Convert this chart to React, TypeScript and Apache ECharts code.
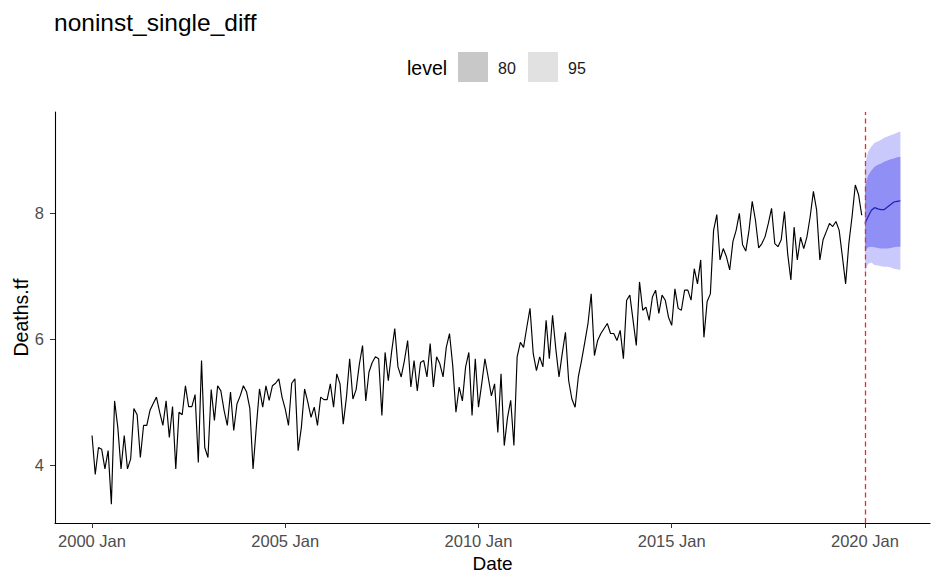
import React, { useEffect, useRef } from "react";
import * as echarts from "echarts";

// Monthly observations (transformed deaths), January..December of each year
const y2000 = [4.47, 3.85, 4.28, 4.25, 3.94, 4.23, 3.38, 5.02, 4.6, 3.94, 4.47, 3.94];
const y2001 = [4.1, 4.9, 4.8, 4.12, 4.63, 4.63, 4.87, 4.98, 5.08, 4.84, 4.63, 5.02];
const y2002 = [4.44, 4.93, 3.94, 4.84, 4.8, 5.26, 4.93, 4.93, 5.12, 4.04, 5.66, 4.28];
const y2003 = [4.12, 5.2, 4.71, 5.26, 5.18, 4.87, 4.63, 5.16, 4.55, 4.97, 5.1, 5.26];
const y2004 = [5.16, 4.9, 3.94, 4.6, 5.21, 4.92, 5.26, 5.03, 5.26, 5.3, 5.37, 5.08];
const y2005 = [4.89, 4.63, 5.3, 5.37, 4.23, 4.6, 5.21, 5.0, 4.76, 4.92, 4.63, 5.08];
const y2006 = [5.04, 5.04, 5.29, 4.92, 5.45, 5.29, 4.65, 5.08, 5.69, 5.05, 5.2, 5.6];
const y2007 = [5.9, 5.02, 5.48, 5.63, 5.72, 5.69, 4.79, 5.79, 5.34, 5.79, 6.17, 5.56];
const y2008 = [5.4, 5.66, 5.98, 5.24, 5.66, 5.18, 5.63, 5.66, 5.4, 5.93, 5.24, 5.72];
const y2009 = [5.61, 5.4, 5.87, 6.09, 5.58, 4.84, 5.24, 5.02, 5.56, 5.79, 4.79, 5.69];
const y2010 = [4.92, 5.29, 5.69, 5.4, 5.1, 5.29, 4.52, 5.45, 4.31, 4.75, 5.03, 4.31];
const y2011 = [5.72, 5.95, 5.87, 6.19, 6.49, 5.77, 5.5, 5.72, 5.56, 6.3, 5.69, 6.38];
const y2012 = [5.85, 5.4, 5.77, 6.11, 5.34, 5.05, 4.92, 5.4, 5.66, 5.95, 6.25, 6.72];
const y2013 = [5.74, 5.98, 6.09, 6.17, 6.25, 6.09, 6.09, 5.98, 6.14, 5.69, 6.62, 6.7];
const y2014 = [6.3, 5.9, 6.91, 6.46, 6.51, 6.3, 6.67, 6.78, 6.41, 6.7, 6.62, 6.35];
const y2015 = [6.22, 6.8, 6.49, 6.46, 6.78, 6.78, 6.62, 7.12, 6.88, 7.26, 6.03, 6.6];
const y2016 = [6.72, 7.73, 7.98, 7.26, 7.44, 7.31, 7.1, 7.55, 7.73, 8.0, 7.5, 7.4];
const y2017 = [7.73, 8.19, 7.89, 7.45, 7.52, 7.63, 7.84, 8.08, 7.52, 7.47, 7.58, 8.03];
const y2018 = [7.36, 6.94, 7.78, 7.26, 7.62, 7.44, 7.63, 7.95, 8.35, 8.05, 7.26, 7.58];
const y2019 = [7.71, 7.84, 7.79, 7.87, 7.73, 7.31, 6.88, 7.52, 7.95, 8.45, 8.3, 7.97];

// Forecast for 2020 Jan..Dec: point forecast and prediction intervals
const fcMean = [7.84, 7.95, 8.05, 8.09, 8.07, 8.06, 8.06, 8.1, 8.14, 8.18, 8.19, 8.2];
const fcLo80 = [7.4, 7.46, 7.47, 7.46, 7.45, 7.44, 7.44, 7.44, 7.45, 7.46, 7.47, 7.47];
const fcHi80 = [8.42, 8.6, 8.68, 8.74, 8.77, 8.79, 8.82, 8.84, 8.86, 8.87, 8.89, 8.9];
const fcLo95 = [7.07, 7.2, 7.22, 7.18, 7.17, 7.16, 7.15, 7.15, 7.14, 7.12, 7.11, 7.1];
const fcHi95 = [8.77, 8.98, 9.06, 9.12, 9.14, 9.17, 9.2, 9.22, 9.24, 9.26, 9.28, 9.3];

// Axis ticks: x in months since 2000 Jan
const START_YEAR = 2000;
const xTicks = [0, 60, 120, 180, 240];
const yTicks = [4, 6, 8];
const levelLabels = ["80", "95"];

const observed = [
  y2000, y2001, y2002, y2003, y2004, y2005, y2006, y2007, y2008, y2009,
  y2010, y2011, y2012, y2013, y2014, y2015, y2016, y2017, y2018, y2019,
].flat();

const FONT = "'Liberation Sans', Arial, sans-serif";
const DARK = "#8f8ff5";
const LIGHT = "#c9c9fb";

export default function App() {
  const ref = useRef<HTMLDivElement>(null);

  useEffect(() => {
    if (!ref.current) return;
    const chart = echarts.init(ref.current, undefined, { renderer: "svg" });

    const fcStart = observed.length;
    const fcX = fcMean.map((_, k) => fcStart + k);
    const obsData = observed.map((v, i) => [i, v]);
    const bandData = fcX.map((x, k) => [x, fcLo95[k], fcLo80[k], fcHi80[k], fcHi95[k]]);

    // Prediction-interval ribbons: one polygon per level, drawn once
    const renderBands = (params: any, api: any) => {
      if (params.dataIndex !== 0) return null;
      const ribbon = (lo: number[], hi: number[], fill: string) => {
        const lower = lo.map((v, k) => api.coord([fcX[k], v]));
        const upper = hi.map((v, k) => api.coord([fcX[k], v])).reverse();
        return { type: "polygon", shape: { points: [...lower, ...upper] }, style: { fill } };
      };
      return {
        type: "group",
        children: [ribbon(fcLo95, fcHi95, LIGHT), ribbon(fcLo80, fcHi80, DARK)],
      };
    };

    chart.setOption({
      animation: false,
      title: {
        text: "noninst_single_diff",
        left: 54,
        top: 10,
        padding: 0,
        textStyle: { fontFamily: FONT, fontSize: 24.5, fontWeight: "normal", color: "#000" },
      },
      grid: {
        left: 55,
        right: 4,
        top: 112,
        bottom: 50,
        containLabel: false,
        outerBoundsMode: "none",
      },
      xAxis: {
        type: "value",
        min: -11.5,
        max: 260.2,
        name: "Date",
        nameLocation: "middle",
        nameGap: 28,
        nameTextStyle: { fontFamily: FONT, fontSize: 19, color: "#000" },
        axisLine: { show: true, onZero: false, lineStyle: { color: "#000", width: 1.1 } },
        axisTick: { show: true, length: 5, customValues: xTicks, lineStyle: { color: "#333" } },
        axisLabel: {
          customValues: xTicks,
          margin: 9,
          fontFamily: FONT,
          fontSize: 16.5,
          color: "#4d4d4d",
          formatter: (v: number) => `${START_YEAR + Math.round(v / 12)} Jan`,
        },
        splitLine: { show: false },
      },
      yAxis: {
        type: "value",
        min: 3.08,
        max: 9.61,
        name: "Deaths.tf",
        nameLocation: "middle",
        nameGap: 24,
        nameMoveOverlap: false,
        nameTextStyle: { fontFamily: FONT, fontSize: 19.5, color: "#000" },
        axisLine: { show: true, onZero: false, lineStyle: { color: "#000", width: 1.1 } },
        axisTick: { show: true, length: 5, customValues: yTicks, lineStyle: { color: "#333" } },
        axisLabel: {
          customValues: yTicks,
          margin: 11,
          fontFamily: FONT,
          fontSize: 16.5,
          color: "#4d4d4d",
        },
        splitLine: { show: false },
      },
      series: [
        {
          name: "observed",
          type: "line",
          data: obsData,
          symbol: "none",
          silent: true,
          lineStyle: { color: "#000", width: 1.15 },
          z: 3,
          markLine: {
            silent: true,
            symbol: "none",
            label: { show: false },
            lineStyle: { color: "#f02828", width: 1.3, type: [5, 3.5] },
            data: [{ xAxis: fcStart }],
          },
        },
        {
          name: "intervals",
          type: "custom",
          silent: true,
          data: bandData,
          encode: { x: 0, y: [1, 2, 3, 4] },
          renderItem: renderBands,
          z: 2,
        },
        {
          name: "forecast",
          type: "line",
          data: fcMean.map((v, k) => [fcX[k], v]),
          symbol: "none",
          silent: true,
          lineStyle: { color: "#2020b4", width: 1.2 },
          z: 4,
        },
      ],
      graphic: [
        {
          type: "text",
          left: 407,
          top: 58,
          style: { text: "level", fontFamily: FONT, fontSize: 19.5, fill: "#000" },
        },
        { type: "rect", shape: { x: 458, y: 52, width: 30, height: 30 }, style: { fill: "#c8c8c8" } },
        {
          type: "text",
          left: 498,
          top: 60,
          style: { text: levelLabels[0], fontFamily: FONT, fontSize: 16, fill: "#1a1a1a" },
        },
        { type: "rect", shape: { x: 528, y: 52, width: 30, height: 30 }, style: { fill: "#e1e1e1" } },
        {
          type: "text",
          left: 568,
          top: 60,
          style: { text: levelLabels[1], fontFamily: FONT, fontSize: 16, fill: "#1a1a1a" },
        },
      ],
    });

    return () => chart.dispose();
  }, []);

  return (
    <div
      ref={ref}
      style={{ position: "absolute", left: 0, top: 0, width: 934, height: 573, background: "#fff" }}
    />
  );
}
